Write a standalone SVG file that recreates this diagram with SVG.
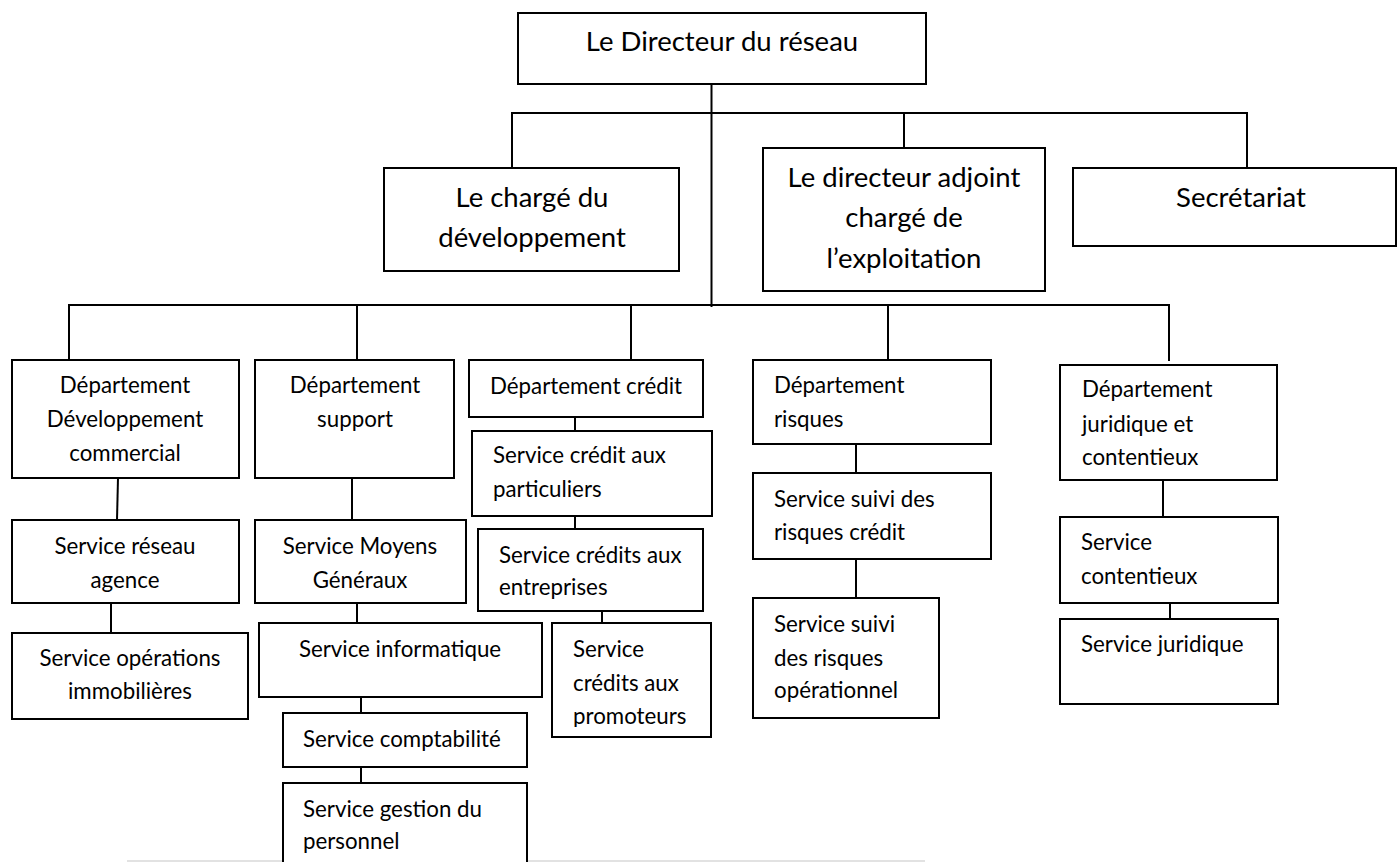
<svg xmlns="http://www.w3.org/2000/svg" width="1399" height="862" viewBox="0 0 1399 862">
<style>
.box{fill:#fff;stroke:#000;stroke-width:2}
.ln{stroke:#000;stroke-width:2;fill:none}
.t{font-family:Lato,"Liberation Sans",sans-serif;font-size:22.3px;fill:#000}
.big{font-size:27.5px}
.c{text-anchor:middle}
</style>
<defs>
<clipPath id="clipPromo"><rect x="552" y="623" width="159" height="104"/></clipPath>
</defs>
<rect width="1399" height="862" fill="#fff"/>
<line x1="127" y1="861" x2="925" y2="861" stroke="#d9d9d9" stroke-width="1.5"/>
<g id="connectors" class="ln">
<line x1="711.5" y1="84" x2="711.5" y2="307"/>
<polyline points="512,168 512,113 1247,113 1247,168"/>
<line x1="904" y1="113" x2="904" y2="148"/>
<polyline points="69,360 69,305 1169,305 1169,361"/>
<line x1="357" y1="305" x2="357" y2="360"/>
<line x1="631" y1="305" x2="631" y2="360"/>
<line x1="888" y1="305" x2="888" y2="360"/>
<line x1="118" y1="478" x2="117" y2="520"/>
<line x1="111" y1="603" x2="111" y2="633"/>
<line x1="352" y1="478" x2="352" y2="520"/>
<line x1="357" y1="603" x2="357" y2="623"/>
<line x1="361" y1="697" x2="361" y2="713"/>
<line x1="361" y1="767" x2="361" y2="783"/>
<line x1="575" y1="417" x2="575" y2="431"/>
<line x1="575" y1="516" x2="575" y2="529"/>
<line x1="602" y1="611" x2="602" y2="623"/>
<line x1="856" y1="444" x2="856" y2="473"/>
<line x1="856" y1="559" x2="856" y2="598"/>
<line x1="1163" y1="478" x2="1163" y2="517"/>
<line x1="1170" y1="603" x2="1170" y2="619"/>
</g>
<g id="directeur">
<rect class="box" x="518" y="13" width="408" height="71"/>
<text class="t big c" x="722" y="51">Le Directeur du réseau</text>
</g>
<g id="charge-dev">
<rect class="box" x="384" y="168" width="295" height="103"/>
<text class="t big c" x="532" y="207">Le chargé du</text>
<text class="t big c" x="532" y="247">développement</text>
</g>
<g id="directeur-adjoint">
<rect class="box" x="763" y="148" width="282" height="143"/>
<text class="t big c" x="904" y="187">Le directeur adjoint</text>
<text class="t big c" x="904" y="227">chargé de</text>
<text class="t big c" x="904" y="268">l’exploitation</text>
</g>
<g id="secretariat">
<rect class="box" x="1073" y="168" width="323" height="78"/>
<text class="t big c" x="1241" y="207">Secrétariat</text>
</g>
<g id="dept-dev">
<rect class="box" x="12" y="360" width="227" height="118"/>
<text class="t c" x="125" y="393">Département</text>
<text class="t c" x="125" y="427">Développement</text>
<text class="t c" x="125" y="461">commercial</text>
</g>
<g id="svc-reseau">
<rect class="box" x="12" y="520" width="227" height="83"/>
<text class="t c" x="125" y="554">Service réseau</text>
<text class="t c" x="125" y="588">agence</text>
</g>
<g id="svc-immo">
<rect class="box" x="12" y="633" width="236" height="86"/>
<text class="t c" x="130" y="666">Service opérations</text>
<text class="t c" x="130" y="699">immobilières</text>
</g>
<g id="dept-support">
<rect class="box" x="255" y="360" width="199" height="118"/>
<text class="t c" x="355" y="393">Département</text>
<text class="t c" x="355" y="427">support</text>
</g>
<g id="svc-moyens">
<rect class="box" x="255" y="520" width="211" height="83"/>
<text class="t c" x="360" y="554">Service Moyens</text>
<text class="t c" x="360" y="588">Généraux</text>
</g>
<g id="svc-info">
<rect class="box" x="259" y="623" width="283" height="74"/>
<text class="t c" x="400" y="657">Service informatique</text>
</g>
<g id="svc-compta">
<rect class="box" x="283" y="713" width="244" height="54"/>
<text class="t" x="303" y="747">Service comptabilité</text>
</g>
<g id="svc-gestion">
<rect class="box" x="283" y="783" width="244" height="90"/>
<text class="t" x="303" y="817">Service gestion du</text>
<text class="t" x="303" y="849">personnel</text>
</g>
<g id="dept-credit">
<rect class="box" x="469" y="360" width="234" height="57"/>
<text class="t c" x="586" y="394">Département crédit</text>
</g>
<g id="svc-particuliers">
<rect class="box" x="472" y="431" width="240" height="85"/>
<text class="t" x="493" y="463">Service crédit aux</text>
<text class="t" x="493" y="497">particuliers</text>
</g>
<g id="svc-entreprises">
<rect class="box" x="478" y="529" width="225" height="82"/>
<text class="t" x="499" y="563">Service crédits aux</text>
<text class="t" x="499" y="595">entreprises</text>
</g>
<g id="svc-promoteurs">
<rect class="box" x="552" y="623" width="159" height="114"/>
<g clip-path="url(#clipPromo)">
<text class="t" x="573" y="657">Service</text>
<text class="t" x="573" y="691">crédits aux</text>
<text class="t" x="573" y="724">promoteurs</text>
</g>
</g>
<g id="dept-risques">
<rect class="box" x="753" y="360" width="238" height="84"/>
<text class="t" x="774" y="393">Département</text>
<text class="t" x="774" y="427">risques</text>
</g>
<g id="svc-suivi-credit">
<rect class="box" x="753" y="473" width="238" height="86"/>
<text class="t" x="774" y="507">Service suivi des</text>
<text class="t" x="774" y="540">risques crédit</text>
</g>
<g id="svc-suivi-oper">
<rect class="box" x="753" y="598" width="186" height="120"/>
<text class="t" x="774" y="632">Service suivi</text>
<text class="t" x="774" y="666">des risques</text>
<text class="t" x="774" y="698">opérationnel</text>
</g>
<g id="dept-juridique">
<rect class="box" x="1060" y="365" width="217" height="115"/>
<text class="t" x="1082" y="397">Département</text>
<text class="t" x="1082" y="432">juridique et</text>
<text class="t" x="1082" y="465">contentieux</text>
</g>
<g id="svc-contentieux">
<rect class="box" x="1060" y="517" width="218" height="86"/>
<text class="t" x="1081" y="550">Service</text>
<text class="t" x="1081" y="584">contentieux</text>
</g>
<g id="svc-juridique">
<rect class="box" x="1060" y="619" width="218" height="85"/>
<text class="t" x="1081" y="652">Service juridique</text>
</g>
</svg>
